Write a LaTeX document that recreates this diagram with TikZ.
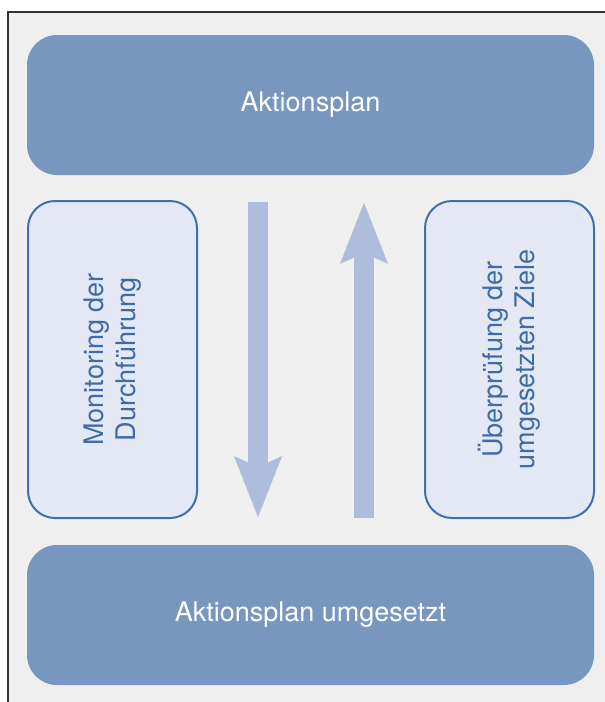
\documentclass[tikz,border=0pt]{standalone}
\usepackage{fontspec}
\setmainfont{TeX Gyre Heros}
\usetikzlibrary{arrows.meta}
\definecolor{bgray}{HTML}{EFEFEF}
\definecolor{darkbox}{HTML}{7897BF}
\definecolor{lightbox}{HTML}{E3E8F4}
\definecolor{boxline}{HTML}{4170A8}
\definecolor{boxtext}{HTML}{3D6CA6}
\definecolor{arrowc}{HTML}{ADBDDB}
\definecolor{framec}{HTML}{333333}
\tikzset{
  mainbox/.style={fill=darkbox, rounded corners=30pt, minimum width=567pt, minimum height=140pt, inner sep=0pt, text=white, font=\fontsize{27}{32}\selectfont},
  sidebox/.style={fill=lightbox, draw=boxline, line width=2pt, rounded corners=27pt, minimum width=317pt, minimum height=169pt, inner sep=0pt, text=boxtext, align=center, rotate=90, font=\fontsize{27}{32}\selectfont},
  blockarrow/.style={draw=arrowc, line width=20pt, -{Stealth[length=60pt,width=45pt,inset=9pt,fill=arrowc]}}
}
\begin{document}
\begin{tikzpicture}[x=1pt,y=-1pt]
\useasboundingbox (0,0) rectangle (605,702);
\fill[bgray] (8,12) rectangle (605,702);
\draw[framec, line width=1.2pt] (605,12) -- (8,12) -- (8,702);
\node[mainbox] (plan) at (310.5,105) {Aktionsplan};
\node[mainbox] (done) at (310.5,615) {Aktionsplan umgesetzt};
\node[sidebox] (mon) at (112.5,359.5) {Monitoring der\\Durchführung};
\node[sidebox] (rev) at (509.5,359.5) {Überprüfung der\\umgesetzten Ziele};
\coordinate (dtop) at (258,202);
\coordinate (dbot) at (258,518);
\coordinate (ubot) at (364,518);
\coordinate (utop) at (364,202);
\draw[blockarrow] (dtop) -- (dbot);
\draw[blockarrow] (ubot) -- (utop);
\end{tikzpicture}
\end{document}
